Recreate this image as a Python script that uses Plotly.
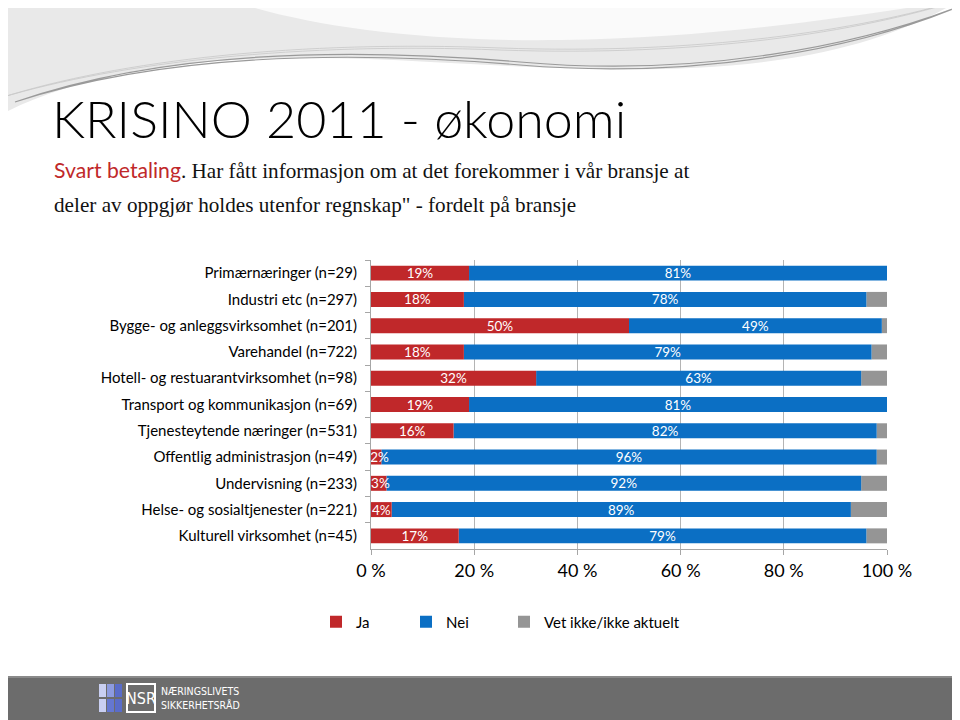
import plotly.graph_objects as go

# Data
categories = [
    'Primærnæringer (n=29)',
    'Industri etc (n=297)',
    'Bygge- og anleggsvirksomhet (n=201)',
    'Varehandel (n=722)',
    'Hotell- og restuarantvirksomhet (n=98)',
    'Transport og kommunikasjon (n=69)',
    'Tjenesteytende næringer (n=531)',
    'Offentlig administrasjon (n=49)',
    'Undervisning (n=233)',
    'Helse- og sosialtjenester (n=221)',
    'Kulturell virksomhet (n=45)',
]
ja = [19, 18, 50, 18, 32, 19, 16, 2, 3, 4, 17]
nei = [81, 78, 49, 79, 63, 81, 82, 96, 92, 89, 79]
vet_ikke = [0, 4, 1, 3, 5, 0, 2, 2, 5, 7, 4]
x_ticks = [0, 20, 40, 60, 80, 100]

RED = '#C0282A'
BLUE = '#0B6FC4'
GRAY = '#959595'

# page has an 8px body margin, so the figure is drawn 8px in from the window corner
OFF = 8
W, H = 960 - OFF, 720 - OFF
# plot area in window pixels: x 371..887, y 260..549
ML, MR, MT, MB = 371 - OFF, 960 - 887, 260 - OFF, 720 - 549


def px(x):
    # window pixel -> paper x
    return (x - OFF - ML) / (W - ML - MR)


def py(y):
    # window pixel -> paper y
    return (H - MB - (y - OFF)) / (H - MT - MB)


def path(points):
    out = ''
    for cmd, pts in points:
        out += cmd + ' '.join(f'{px(a):.4f},{py(b):.4f}' for a, b in pts) + ' '
    return out + 'Z'


def label(v):
    # tiny segments: nudge the (white) label right so it doesn't start left of the axis
    pad = '\u00a0' * max(0, 4 - v) if v < 4 else ''
    return f'{pad}{v}%'


fig = go.Figure()

# stacked by hand (overlay + base) so the red labels sit on top of the blue bars
base_nei = ja
base_vet = [a + b for a, b in zip(ja, nei)]
series = [
    ('Vet ikke/ikke aktuelt', vet_ikke, base_vet, GRAY, 'legend3', False),
    ('Nei', nei, base_nei, BLUE, 'legend2', True),
    ('Ja', ja, [0] * len(ja), RED, 'legend', True),
]
for name, vals, base, col, leg, show_txt in series:
    fig.add_trace(go.Bar(
        y=categories, x=vals, base=base, name=name, orientation='h',
        marker=dict(color=col, line=dict(width=0)),
        text=[label(v) for v in vals] if show_txt else None,
        textposition='inside' if show_txt else 'none',
        insidetextanchor='middle',
        constraintext='none', textangle=0, cliponaxis=False,
        textfont=dict(family='Lato', size=13.5, color='white'),
        legend=leg,
    ))

shapes = [
    # top swoosh
    dict(type='path', xref='paper', yref='paper', layer='below', line=dict(width=0),
         fillcolor='#e9e9e9',
         path=path([('M', [(0, 0)]), ('L', [(960, 0), (960, 25)]),
                    ('C', [(820, 85), (620, 72), (430, 62)]),
                    ('C', [(260, 52), (110, 58), (0, 115)])])),
    dict(type='path', xref='paper', yref='paper', layer='below', line=dict(width=0),
         fillcolor='#fafafa',
         path=path([('M', [(230, 0)]), ('C', [(300, 25), (420, 42), (560, 40)]),
                    ('C', [(720, 38), (860, 15), (960, 0)])])),
    dict(type='path', xref='paper', yref='paper', layer='below',
         line=dict(width=1.2, color='#9a9a9a'), fillcolor='rgba(0,0,0,0)',
         path=path([('M', [(15, 102)]), ('C', [(150, 55), (320, 45), (520, 62)]),
                    ('C', [(700, 78), (860, 45), (960, 6)]),
                    ('C', [(860, 48), (700, 80), (520, 65)]),
                    ('C', [(320, 48), (150, 58), (15, 102)])])),
    dict(type='path', xref='paper', yref='paper', layer='below',
         line=dict(width=0.8, color='#c8c8c8'), fillcolor='rgba(0,0,0,0)',
         path=path([('M', [(0, 98)]), ('C', [(120, 60), (300, 40), (500, 48)]),
                    ('C', [(700, 55), (860, 30), (960, 0)]),
                    ('C', [(860, 32), (700, 57), (500, 50)]),
                    ('C', [(300, 42), (120, 62), (0, 98)])])),
    # footer band
    dict(type='rect', xref='paper', yref='paper', layer='below', line=dict(width=0),
         fillcolor='#6c6c6c', x0=px(0), x1=px(960), y0=py(678), y1=py(720)),
    dict(type='rect', xref='paper', yref='paper', layer='below', line=dict(width=0),
         fillcolor='#8a8a8a', x0=px(0), x1=px(960), y0=py(676), y1=py(678)),
    # logo squares
    dict(type='rect', xref='paper', yref='paper', line=dict(width=0), fillcolor='#c9cff2',
         x0=px(99), x1=px(106), y0=py(697), y1=py(684)),
    dict(type='rect', xref='paper', yref='paper', line=dict(width=0), fillcolor='#c9cff2',
         x0=px(99), x1=px(106), y0=py(712), y1=py(699)),
    dict(type='rect', xref='paper', yref='paper', line=dict(width=0), fillcolor='#8d9be0',
         x0=px(107), x1=px(114), y0=py(697), y1=py(684)),
    dict(type='rect', xref='paper', yref='paper', line=dict(width=0), fillcolor='#6577d0',
         x0=px(107), x1=px(114), y0=py(712), y1=py(699)),
    dict(type='rect', xref='paper', yref='paper', line=dict(width=0), fillcolor='#5a6cc8',
         x0=px(115), x1=px(122), y0=py(697), y1=py(684)),
    dict(type='rect', xref='paper', yref='paper', line=dict(width=0), fillcolor='#5a6cc8',
         x0=px(115), x1=px(122), y0=py(712), y1=py(699)),
    dict(type='rect', xref='paper', yref='paper', line=dict(width=2, color='white'),
         fillcolor='rgba(0,0,0,0)', x0=px(127), x1=px(155), y0=py(712), y1=py(684)),
]

annotations = [
    dict(text='KRISINO 2011 - økonomi', x=px(50), y=py(118), xref='paper', yref='paper',
         xanchor='left', yanchor='middle', showarrow=False,
         font=dict(family='Lato', size=52, color='black', weight=300)),
    dict(text="<span style='color:#C0282A;font-family:Lato'>Svart betaling</span>. "
              "Har fått informasjon om at det forekommer i vår bransje at",
         x=px(52), y=py(170), xref='paper', yref='paper', align='left',
         xanchor='left', yanchor='middle', showarrow=False,
         font=dict(family='Liberation Serif', size=21.2, color='#111111')),
    dict(text="deler av oppgjør holdes utenfor regnskap\" - fordelt på bransje",
         x=px(52), y=py(205), xref='paper', yref='paper', align='left',
         xanchor='left', yanchor='middle', showarrow=False,
         font=dict(family='Liberation Serif', size=21.2, color='#111111')),
    dict(text='NSR', x=px(141), y=py(698), xref='paper', yref='paper', showarrow=False,
         xanchor='center', yanchor='middle',
         font=dict(family='DejaVu Sans Condensed, Roboto', size=16, color='white')),
    dict(text='NÆRINGSLIVETS<br>SIKKERHETSRÅD', x=px(159), y=py(698), xref='paper', yref='paper',
         showarrow=False, xanchor='left', yanchor='middle', align='left',
         font=dict(family='DejaVu Sans Condensed, Roboto', size=10.5, color='white')),
]

leg_font = dict(family='Lato', size=15, color='black')
leg_common = dict(orientation='h', yanchor='middle', xanchor='left', y=py(622),
                  font=leg_font, bgcolor='rgba(0,0,0,0)')

fig.update_layout(
    width=W, height=H,
    margin=dict(l=ML, r=MR, t=MT, b=MB),
    paper_bgcolor='white', plot_bgcolor='white',
    barmode='overlay', bargap=0.43,
    shapes=shapes, annotations=annotations,
    showlegend=True,
    legend=dict(x=px(316), **leg_common),
    legend2=dict(x=px(406), **leg_common),
    legend3=dict(x=px(504), **leg_common),
    font=dict(family='Lato'),
)
fig.update_xaxes(
    range=[0, 100], tickvals=x_ticks, ticktext=[f'{v} %' for v in x_ticks],
    showgrid=True, gridcolor='#b4b4b4', gridwidth=1,
    showline=True, linecolor='#a6a6a6', linewidth=1,
    ticks='outside', ticklen=5, tickcolor='#a6a6a6',
    tickfont=dict(family='Lato', size=18, color='black'),
    zeroline=False, fixedrange=True,
)
fig.update_yaxes(
    autorange='reversed', showline=True, linecolor='#a6a6a6', linewidth=1,
    ticks='outside', ticklen=5, tickcolor='#a6a6a6', tickson='boundaries',
    tickfont=dict(family='Lato', size=15, color='black'), ticklabelstandoff=10,
    showgrid=False,
)

fig.write_html('out.html')
